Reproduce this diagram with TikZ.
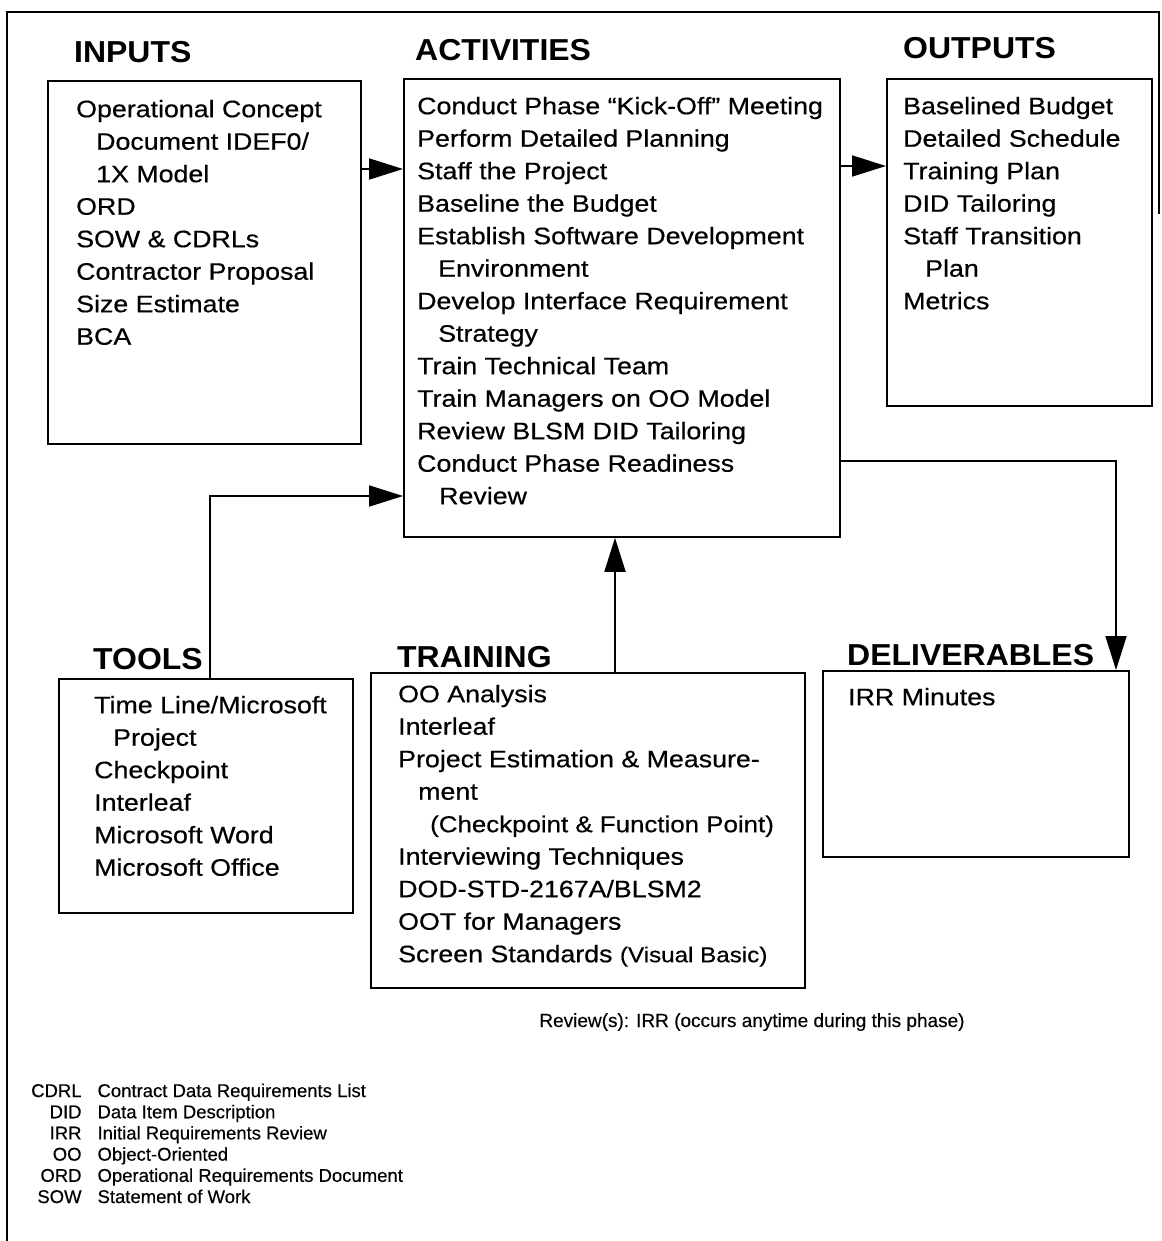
\documentclass[tikz,border=0pt]{standalone}
\usepackage{fontspec}
\setmainfont{Liberation Sans}[FakeBold=0.4]
\newfontfamily\bodyfont[FakeStretch=1.125,FakeBold=0.5]{Liberation Sans}
\newfontfamily\headfont[FakeStretch=1.055]{Liberation Sans}
\usetikzlibrary{arrows.meta}

\tikzset{
  frame/.style={line width=1.8pt},
  box/.style={draw, line width=1.8pt, inner sep=0pt, anchor=north west},
  heading/.style={anchor=base west, inner sep=0pt,
    font=\headfont\bfseries\fontsize{30.3}{34}\selectfont},
  body/.style={anchor=north west, inner sep=0pt, align=left,
    font=\bodyfont\fontsize{23.8}{32.5}\selectfont},
  conn/.style={line width=1.8pt, -{Triangle[length=34pt,width=21pt]}},
}
% first-line strut: puts the first baseline 20pt below the node top
\newcommand\firstline{\rule{0pt}{20pt}}
\newcommand\ind[1]{\hspace*{#1pt}}

\begin{document}
\begin{tikzpicture}[x=1pt,y=-1pt]
\useasboundingbox (0,0) rectangle (1161,1241);

% outer frame
\draw[frame] (7,1241) -- (7,12) -- (1159,12) -- (1159,214);

% boxes
\node[box, minimum width=313pt, minimum height=363pt] (inputs) at (47,80) {};
\node[box, minimum width=436pt, minimum height=458pt] (activities) at (403,78) {};
\node[box, minimum width=265pt, minimum height=327pt] (outputs) at (886,78) {};
\node[box, minimum width=294pt, minimum height=234pt] (tools) at (58,678) {};
\node[box, minimum width=434pt, minimum height=315pt] (training) at (370,672) {};
\node[box, minimum width=306pt, minimum height=186pt] (deliverables) at (822,670) {};

% headings
\node[heading] (hinputs) at (74,63) {INPUTS};
\node[heading] (hactivities) at (415,61) {ACTIVITIES};
\node[heading] (houtputs) at (903,59) {OUTPUTS};
\node[heading] (htools) at (93,669) {TOOLS};
\node[heading] (htraining) at (397,667) {TRAINING};
\node[heading] (hdeliverables) at (847,665) {DELIVERABLES};

% box contents
\node[body] (tinputs) at (76,97) {\firstline Operational Concept\\
  \ind{20}Document IDEF0/\\
  \ind{20}1X Model\\
  ORD\\
  SOW \& CDRLs\\
  Contractor Proposal\\
  Size Estimate\\
  BCA};

\node[body] (tactivities) at (417,94) {\firstline Conduct Phase “Kick-Off” Meeting\\
  Perform Detailed Planning\\
  Staff the Project\\
  Baseline the Budget\\
  Establish Software Development\\
  \ind{21}Environment\\
  Develop Interface Requirement\\
  \ind{21}Strategy\\
  Train Technical Team\\
  Train Managers on OO Model\\
  Review BLSM DID Tailoring\\
  Conduct Phase Readiness\\
  \ind{22}Review};

\node[body] (toutputs) at (903,94) {\firstline Baselined Budget\\
  Detailed Schedule\\
  Training Plan\\
  DID Tailoring\\
  Staff Transition\\
  \ind{22}Plan\\
  Metrics};

\node[body] (ttools) at (94,693) {\firstline Time Line/Microsoft\\
  \ind{19}Project\\
  Checkpoint\\
  Interleaf\\
  Microsoft Word\\
  Microsoft Office};

\node[body] (ttraining) at (398,682) {\firstline OO Analysis\\
  Interleaf\\
  Project Estimation \& Measure-\\
  \ind{20}ment\\
  \ind{32}{\fontsize{23}{32.5}\selectfont(Checkpoint \& Function Point)}\\
  Interviewing Techniques\\
  DOD-STD-2167A/BLSM2\\
  OOT for Managers\\
  Screen Standards {\fontsize{21.5}{32.5}\selectfont(Visual Basic)}};

\node[body] (tdeliverables) at (848,685) {\firstline IRR Minutes};

% connectors
\draw[conn] (inputs.east |- 0,169) -- (activities.west |- 0,169);
\draw[conn] (activities.east |- 0,166) -- (outputs.west |- 0,166);
\draw[conn] (tools.north -| 210,0) |- (activities.west |- 0,496);
\draw[conn] (training.north -| 615,0) -- (activities.south -| 615,0);
\draw[conn] (activities.east |- 0,461) -| (deliverables.north -| 1116,0);

% review note
\node[anchor=base, inner sep=0pt, font=\fontsize{19}{22}\selectfont] (review)
  at (752,1027) {Review(s): IRR (occurs anytime during this phase)};

% abbreviations
\node[anchor=north west, inner sep=0pt, font=\fontsize{18.5}{21.2}\selectfont] (legend)
  at (31,1082) {%
  \begin{tabular}{@{}r@{\hspace{16pt}}l@{}}
    CDRL & Contract Data Requirements List\\
    DID & Data Item Description\\
    IRR & Initial Requirements Review\\
    OO & Object-Oriented\\
    ORD & Operational Requirements Document\\
    SOW & Statement of Work
  \end{tabular}};
\end{tikzpicture}
\end{document}
